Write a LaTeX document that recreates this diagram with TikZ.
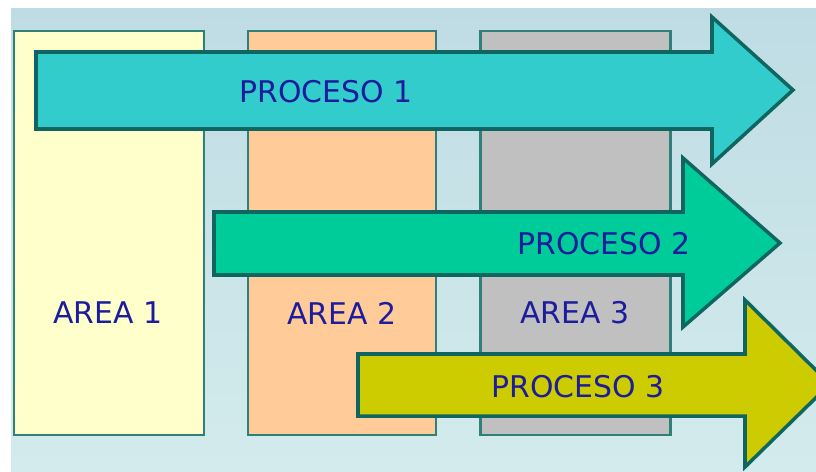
\documentclass[tikz,border=0pt]{standalone}
\usepackage{fontspec}
\setmainfont{DejaVu Sans}
\usepackage{xcolor}
\usetikzlibrary{positioning,calc}
\definecolor{bgtop}{HTML}{BFDCE4}
\definecolor{bgbot}{HTML}{D3EBEC}
\definecolor{areaedge}{HTML}{2F7F7A}
\definecolor{arrowedge}{HTML}{0F6660}
\definecolor{labelblue}{HTML}{1C1C9C}
\definecolor{areaone}{HTML}{FFFFCC}
\definecolor{areatwo}{HTML}{FFCC99}
\definecolor{areathree}{HTML}{C0C0C0}
\definecolor{procone}{HTML}{33CCCC}
\definecolor{proctwo}{HTML}{00CC99}
\definecolor{procthree}{HTML}{CCCC00}

\begin{document}
\begin{tikzpicture}[x=0.02cm,y=-0.02cm,
  every node/.style={font=\fontsize{17}{20}\selectfont,text=labelblue,inner sep=0pt},
  areabox/.style={draw=areaedge,line width=1.2pt,minimum width=3.8cm,minimum height=8.08cm},
  procarrow/.style={draw=arrowedge,line width=2pt,line join=miter}]
\useasboundingbox (0,0) rectangle (816,471);
\fill[white] (0,0) rectangle (816,471);
\shade[top color=bgtop,bottom color=bgbot] (11,8) rectangle (816,471);
% areas
\node[areabox,fill=areaone] (a1) at (109,233) {};
\node[areabox,fill=areatwo,minimum width=3.76cm] (a2) at (342,233) {};
\node[areabox,fill=areathree] (a3) at (575.5,233) {};
\node (l1) at (108,313) {AREA 1};
\node (l2) at (342,313) {AREA 2};
\node (l3) at (575,313) {AREA 3};
% processes
\clip (0,0) rectangle (816,471);
\draw[procarrow,fill=procone] (36,52) -- (712,52) -- (712,17) -- (793,90)
  -- (712,164) -- (712,129) -- (36,129) -- cycle;
\draw[procarrow,fill=proctwo] (214,212) -- (683,212) -- (683,158) -- (780,243)
  -- (683,327) -- (683,275) -- (214,275) -- cycle;
\draw[procarrow,fill=procthree] (358,354) -- (745,354) -- (745,300) -- (830,384)
  -- (745,467) -- (745,416) -- (358,416) -- cycle;
\node (p1) at (326,92) {PROCESO 1};
\node (p2) at (604,244) {PROCESO 2};
\node (p3) at (578,387) {PROCESO 3};
\end{tikzpicture}
\end{document}
